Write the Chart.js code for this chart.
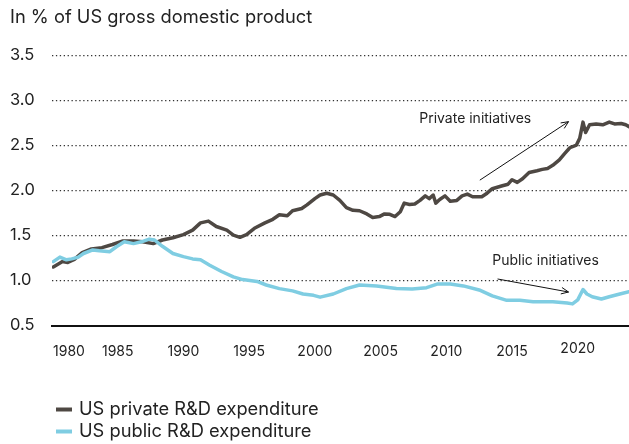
<!DOCTYPE html>
<html>
<head>
<meta charset="utf-8">
<script src="https://cdn.jsdelivr.net/npm/chart.js@4.4.1/dist/chart.umd.min.js"></script>
<style>
  html, body { margin: 0; padding: 0; background: #ffffff; }
  #wrap { width: 629px; height: 444px; position: relative; }
</style>
</head>
<body>
<div id="wrap"><canvas id="c" width="629" height="444"></canvas></div>
<script>
// ---------- DATA ----------
const titleText = "In % of US gross domestic product";
const seriesNames = ["US private R&D expenditure", "US public R&D expenditure"];

const privateYears = [1980.1,1980.8,1981.2,1981.7,1982.3,1983.0,1983.8,1984.6,1985.4,1986.2,1986.9,1987.7,1988.4,1989.2,1990.0,1990.7,1991.3,1991.9,1992.5,1993.3,1993.8,1994.3,1994.8,1995.4,1996.2,1996.8,1997.3,1997.9,1998.3,1999.0,1999.4,2000.0,2000.4,2000.9,2001.4,2001.9,2002.4,2002.9,2003.4,2003.95,2004.4,2004.9,2005.3,2005.7,2006.1,2006.5,2006.8,2007.2,2007.6,2008.0,2008.4,2008.7,2009.0,2009.2,2009.5,2009.9,2010.3,2010.8,2011.2,2011.6,2012.0,2012.7,2013.1,2013.5,2014.2,2014.7,2015.0,2015.4,2015.8,2016.3,2016.9,2017.3,2017.7,2018.1,2018.6,2019.0,2019.4,2019.9,2020.15,2020.4,2020.6,2020.9,2021.4,2021.9,2022.4,2022.8,2023.3,2023.65,2023.9];
const privateValues = [1.15,1.21,1.20,1.235,1.31,1.35,1.365,1.40,1.44,1.44,1.43,1.41,1.45,1.475,1.51,1.56,1.64,1.66,1.60,1.56,1.505,1.48,1.51,1.58,1.64,1.68,1.73,1.72,1.775,1.80,1.84,1.91,1.95,1.97,1.95,1.89,1.81,1.78,1.775,1.74,1.70,1.71,1.74,1.735,1.71,1.765,1.86,1.845,1.85,1.89,1.94,1.91,1.95,1.86,1.90,1.94,1.88,1.89,1.94,1.96,1.93,1.93,1.97,2.02,2.05,2.07,2.12,2.09,2.13,2.20,2.22,2.235,2.245,2.28,2.34,2.41,2.475,2.505,2.58,2.76,2.645,2.73,2.74,2.73,2.76,2.74,2.745,2.73,2.71];

const publicYears = [1980.1,1980.6,1981.1,1981.5,1982.0,1982.4,1983.1,1983.6,1984.4,1984.9,1985.5,1986.2,1986.8,1987.4,1987.8,1988.4,1989.2,1990.0,1990.7,1991.3,1992.0,1992.9,1993.8,1994.5,1995.6,1996.3,1997.3,1998.3,1999.1,1999.9,2000.4,2001.4,2002.4,2003.4,2004.7,2006.2,2007.4,2008.5,2009.3,2010.3,2011.3,2012.5,2013.5,2014.6,2015.6,2016.6,2018.1,2019.2,2019.6,2020.0,2020.4,2020.7,2021.1,2021.8,2022.4,2023.2,2023.9];
const publicValues = [1.21,1.26,1.23,1.24,1.26,1.30,1.34,1.33,1.32,1.375,1.43,1.41,1.43,1.46,1.45,1.38,1.30,1.265,1.24,1.23,1.17,1.10,1.04,1.01,0.99,0.95,0.91,0.885,0.85,0.835,0.815,0.85,0.91,0.95,0.94,0.91,0.905,0.92,0.96,0.96,0.94,0.895,0.83,0.78,0.78,0.765,0.765,0.75,0.74,0.785,0.90,0.85,0.82,0.795,0.82,0.85,0.875];

const xTickLabels = [1980, 1985, 1990, 1995, 2000, 2005, 2010, 2015, 2020];
const yTickValues = [0.5, 1.0, 1.5, 2.0, 2.5, 3.0, 3.5];

const annotations = [
  { text: "Private initiatives", textAt: [2012.2, 2.795], from: [2012.55, 2.115], to: [2019.3, 2.765] },
  { text: "Public initiatives",  textAt: [2017.55, 1.215], from: [2013.9, 1.017], to: [2019.3, 0.872] }
];

// ---------- STYLE ----------
const FONT = "Inter, 'Noto Sans', sans-serif";
const TEXT = "#222222";
const COLORS = ["#4e4843", "#7fcde2"];

function toPts(xs, ys) { return xs.map((x, i) => ({ x: x, y: ys[i] })); }

const overlay = {
  id: 'overlay',
  afterDraw(chart) {
    const ctx = chart.ctx;
    const xs = chart.scales.x, ys = chart.scales.y;
    ctx.save();
    // title
    ctx.fillStyle = TEXT;
    ctx.font = "18.3px " + FONT;
    ctx.textAlign = 'left';
    ctx.textBaseline = 'middle';
    ctx.fillText(titleText, 10, 18);

    // x tick labels
    ctx.font = "14px " + FONT;
    xTickLabels.forEach((yr, i) => {
      const px = xs.getPixelForValue(yr);
      ctx.textAlign = i === 0 ? 'left' : 'center';
      const py = yr === 2020 ? 349 : 352;
      ctx.fillText(String(yr), i === 0 ? px + 1 : px, py);
    });

    // annotations
    ctx.font = "14px " + FONT;
    ctx.strokeStyle = "#111111";
    ctx.lineWidth = 1;
    annotations.forEach(a => {
      ctx.textAlign = 'center';
      ctx.fillText(a.text, xs.getPixelForValue(a.textAt[0]), ys.getPixelForValue(a.textAt[1]));
      const x1 = xs.getPixelForValue(a.from[0]), y1 = ys.getPixelForValue(a.from[1]);
      const x2 = xs.getPixelForValue(a.to[0]), y2 = ys.getPixelForValue(a.to[1]);
      ctx.beginPath();
      ctx.moveTo(x1, y1); ctx.lineTo(x2, y2);
      const ang = Math.atan2(y2 - y1, x2 - x1);
      const L = 8, A = 0.42;
      ctx.moveTo(x2 - L * Math.cos(ang - A), y2 - L * Math.sin(ang - A));
      ctx.lineTo(x2, y2);
      ctx.lineTo(x2 - L * Math.cos(ang + A), y2 - L * Math.sin(ang + A));
      ctx.stroke();
    });

    // legend
    ctx.font = "18.3px " + FONT;
    ctx.textAlign = 'left';
    const legendY = [409.5, 431.5];
    chart.data.datasets.forEach((ds, i) => {
      const y = legendY[i];
      ctx.strokeStyle = ds.borderColor;
      ctx.lineWidth = 4;
      ctx.beginPath();
      ctx.moveTo(56, y); ctx.lineTo(72, y);
      ctx.stroke();
      ctx.fillStyle = TEXT;
      ctx.fillText(ds.label, 79, y);
    });
    ctx.restore();
  }
};

new Chart(document.getElementById('c'), {
  type: 'line',
  data: {
    datasets: [
      { label: seriesNames[0], data: toPts(privateYears, privateValues), borderColor: COLORS[0], backgroundColor: COLORS[0], borderWidth: 3.5, pointRadius: 0, tension: 0, order: 1, borderJoinStyle: 'round', borderCapStyle: 'round' },
      { label: seriesNames[1], data: toPts(publicYears, publicValues), borderColor: COLORS[1], backgroundColor: COLORS[1], borderWidth: 3.5, pointRadius: 0, tension: 0, order: 0, borderJoinStyle: 'round', borderCapStyle: 'round' }
    ]
  },
  options: {
    responsive: false,
    animation: false,
    devicePixelRatio: 1,
    layout: { padding: { left: 10, right: 0, top: 55.5, bottom: 118.5 } },
    plugins: { legend: { display: false }, tooltip: { enabled: false }, title: { display: false } },
    scales: {
      x: {
        type: 'linear',
        min: 1980,
        max: 2023.9,
        ticks: { display: false },
        grid: { display: false, drawTicks: false },
        border: { display: true, color: '#111111', width: 2 },
        afterFit(scale) { scale.height = 0; }
      },
      y: {
        min: 0.5,
        max: 3.5,
        afterBuildTicks(scale) { scale.ticks = yTickValues.map(v => ({ value: v })); },
        ticks: {
          crossAlign: 'far',
          color: TEXT,
          font: { family: FONT, size: 16.5 },
          callback: v => Number(v).toFixed(1)
        },
        grid: {
          drawTicks: false,
          color: ctx => (ctx.tick && ctx.tick.value === 0.5) ? 'rgba(0,0,0,0)' : '#333333',
          lineWidth: 1.3
        },
        border: { display: false, dash: [1.3, 2.6] },
        afterFit(scale) { scale.width = 42; }
      }
    }
  },
  plugins: [overlay]
});
</script>
</body>
</html>
